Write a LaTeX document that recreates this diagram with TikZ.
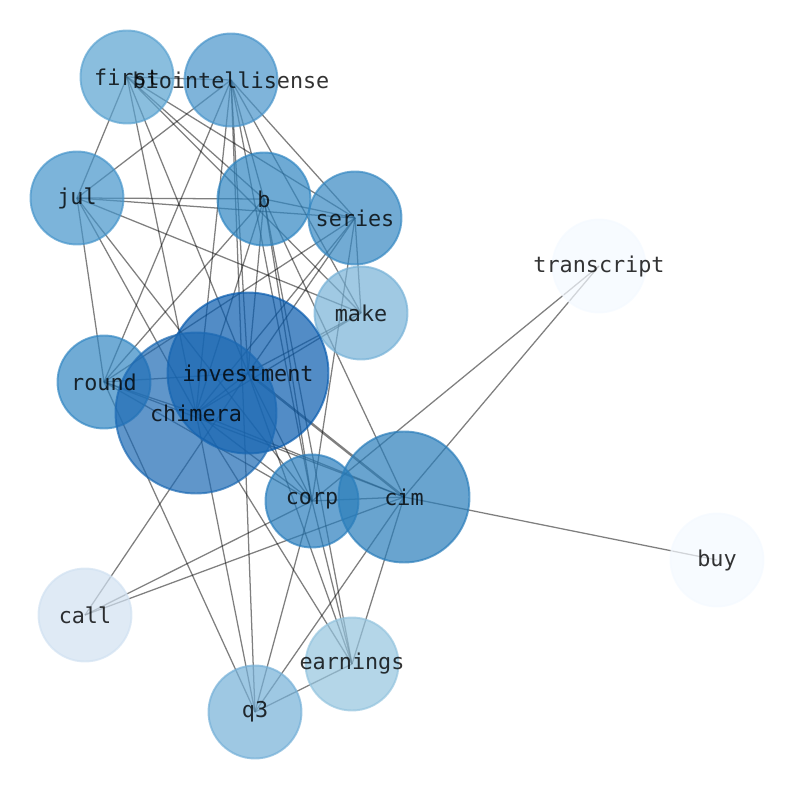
\documentclass[tikz,border=0pt]{standalone}
\usepackage{fontspec}
\setmonofont{DejaVu Sans Mono}
\usetikzlibrary{backgrounds}

% node colours (Blues, seen through the node opacity)
\definecolor{cfirst}{RGB}{89,162,208}
\definecolor{cbio}{RGB}{72,148,202}
\definecolor{cjul}{RGB}{69,148,202}
\definecolor{cb}{RGB}{48,134,194}
\definecolor{cseries}{RGB}{54,136,194}
\definecolor{cmake}{RGB}{119,178,215}
\definecolor{cround}{RGB}{51,135,195}
\definecolor{cinvest}{RGB}{8,91,174}
\definecolor{cchimera}{RGB}{28,105,179}
\definecolor{ccorp}{RGB}{42,126,189}
\definecolor{ccim}{RGB}{42,125,186}
\definecolor{ccall}{RGB}{209,225,241}
\definecolor{cearn}{RGB}{148,196,222}
\definecolor{cq}{RGB}{117,176,215}
\definecolor{cpale}{RGB}{244,249,255}

\begin{document}
\begin{tikzpicture}[x=0.02cm,y=-0.02cm,
    word/.style={circle, inner sep=0pt, minimum size=1.86cm, line width=1.1pt,
      fill opacity=0.7, draw opacity=0.7},
    big/.style={minimum size=3.22cm},
    mid/.style={minimum size=2.62cm},
    wordtext/.style={inner sep=0pt, text=black, text opacity=0.8,
      font=\ttfamily\fontsize{12.4}{14}\selectfont},
    link/.style={draw=black, draw opacity=0.5, line width=0.72pt},
    heavy/.style={draw=black, draw opacity=0.5, line width=1.4pt}]

    % keep the margins of the figure
    \useasboundingbox (0,0) rectangle (794,790);

    % the words
    \node[word, fill=cfirst, draw=cfirst] (first) at (127,77) {};
    \node[word, fill=cbio, draw=cbio] (bio) at (231,80) {};
    \node[word, fill=cjul, draw=cjul] (jul) at (77,198) {};
    \node[word, fill=cb, draw=cb] (b) at (264,199) {};
    \node[word, fill=cseries, draw=cseries] (series) at (355,218) {};
    \node[word, fill=cpale, draw=cpale] (transcript) at (599,266) {};
    \node[word, fill=cmake, draw=cmake] (make) at (361,313) {};
    \node[word, fill=cround, draw=cround] (round) at (104,382) {};
    \node[word, big, fill=cinvest, draw=cinvest] (invest) at (248,373) {};
    \node[word, big, fill=cchimera, draw=cchimera] (chimera) at (196,413) {};
    \node[word, fill=ccorp, draw=ccorp] (corp) at (312,501) {};
    \node[word, mid, fill=ccim, draw=ccim] (cim) at (404,497) {};
    \node[word, fill=cpale, draw=cpale] (buy) at (717,560) {};
    \node[word, fill=ccall, draw=ccall] (call) at (85,615) {};
    \node[word, fill=cearn, draw=cearn] (earnings) at (352,664) {};
    \node[word, fill=cq, draw=cq] (q3) at (255,712) {};

    % the labels, on top of every word
    \foreach \n/\t in {first/first, bio/biointellisense, jul/jul, b/b,
        series/series, transcript/transcript, make/make, round/round,
        invest/investment, chimera/chimera, corp/corp, cim/cim, buy/buy,
        call/call, earnings/earnings, q3/q3}
      \node[wordtext] (\n-text) at (\n) {\t};

    % the links, under the words
    \begin{pgfonlayer}{background}
    \foreach \a/\b in {first/bio, first/jul, first/b, first/series, first/make,
        first/chimera, first/invest,
        bio/jul, bio/round, bio/b, bio/series, bio/make, bio/chimera,
        bio/invest, bio/q3, bio/corp,
        jul/b, jul/series, jul/make, jul/round, jul/chimera, jul/corp,
        b/series, b/round, b/chimera, b/invest, b/corp, b/cim, b/earnings,
        series/round, series/invest, series/chimera, series/corp, series/make,
        make/invest, make/chimera,
        round/invest, round/chimera, round/corp, round/cim, round/q3,
        invest/chimera, invest/corp, invest/earnings, invest/call,
        chimera/cim, chimera/corp, chimera/q3, chimera/earnings,
        corp/cim, corp/call, corp/q3, corp/earnings, corp/transcript,
        cim/call, cim/q3, cim/earnings, cim/transcript, cim/buy,
        earnings/q3}
      \draw[link] (\a.center) -- (\b.center);
    \draw[heavy] (invest.center) -- (cim.center);
    \end{pgfonlayer}

\end{tikzpicture}
\end{document}
